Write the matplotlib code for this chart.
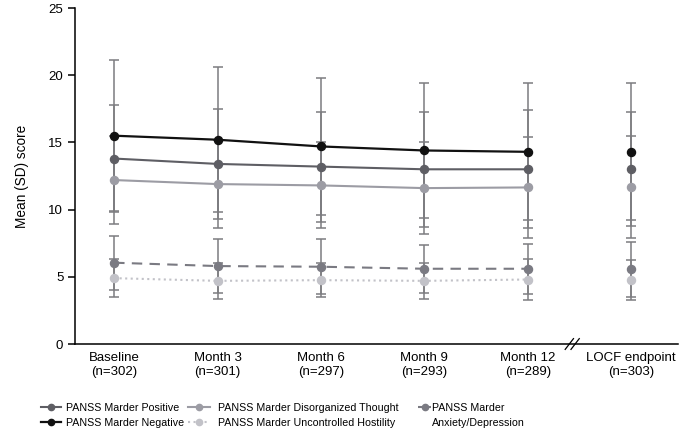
import numpy as np
import matplotlib.pyplot as plt
from matplotlib.lines import Line2D

plt.rcParams['font.family'] = ['Liberation Sans', 'DejaVu Sans']

# === data ===
timepoints = ["Baseline\n(n=302)", "Month 3\n(n=301)", "Month 6\n(n=297)",
              "Month 9\n(n=293)", "Month 12\n(n=289)", "LOCF endpoint\n(n=303)"]

positive_mean = [13.8, 13.4, 13.2, 13.0, 13.0, 13.05]
positive_sd = [4.0, 4.1, 4.1, 4.3, 4.4, 4.25]
negative_mean = [15.5, 15.2, 14.7, 14.4, 14.3, 14.3]
negative_sd = [5.6, 5.4, 5.1, 5.0, 5.1, 5.1]
disorg_mean = [12.2, 11.9, 11.8, 11.6, 11.65, 11.7]
disorg_sd = [3.3, 3.3, 3.2, 3.4, 3.75, 3.8]
anxiety_mean = [6.05, 5.8, 5.75, 5.6, 5.6, 5.55]
anxiety_sd = [2.0, 2.0, 2.05, 1.8, 1.85, 2.05]
hostility_mean = [4.9, 4.7, 4.75, 4.7, 4.8, 4.75]
hostility_sd = [1.4, 1.35, 1.25, 1.35, 1.5, 1.5]

series = [
    ("PANSS Marder Positive", positive_mean, positive_sd, "#5e5e64", "-", 1.5),
    ("PANSS Marder Negative", negative_mean, negative_sd, "#111111", "-", 1.6),
    ("PANSS Marder Disorganized Thought", disorg_mean, disorg_sd, "#9c9ca4", "-", 1.5),
    ("PANSS Marder Uncontrolled Hostility", hostility_mean, hostility_sd, "#c2c2c8", ":", 1.5),
    ("PANSS Marder", anxiety_mean, anxiety_sd, "#7a7a82", (0, (5, 3.5)), 1.5),
]

x = np.arange(len(timepoints))

fig = plt.figure(figsize=(6.83, 4.33), dpi=100)
ax = fig.add_axes([0.11, 0.2055, 0.883, 0.776])

handles = []
for label, m, sd, col, ls, lw in series:
    m = np.array(m)
    sd = np.array(sd)
    ax.errorbar(x, m, yerr=sd, fmt="none", ecolor="#7c7c80", elinewidth=1.1,
                capsize=3.6, capthick=1.1, zorder=1)
    # lines connect the visits, LOCF endpoint stands alone
    ax.plot(x[:5], m[:5], color=col, ls=ls, lw=lw, zorder=3)
    ax.plot(x, m, "o", color=col, ms=5.8, zorder=4)
    handles.append(Line2D([], [], color=col, ls=ls, lw=lw, marker="o", ms=4.5, label=label))

# the short legend handle needs a tighter dash
handles[4] = Line2D([], [], color="#7a7a82", ls=(0, (2.2, 2.2)), lw=1.5,
                    marker="o", ms=4.5, label="PANSS Marder")

ax.set_xlim(-0.377, 5.455)
ax.set_ylim(0, 25)
ax.set_yticks([0, 5, 10, 15, 20, 25])
ax.set_xticks(x)
ax.set_xticklabels(timepoints, fontsize=9.5)
ax.tick_params(axis="y", labelsize=9.5, length=5, width=1.1)
ax.tick_params(axis="x", length=0, pad=6)
ax.set_ylabel("Mean (SD) score", fontsize=9.8, labelpad=14)
for s in ["top", "right"]:
    ax.spines[s].set_visible(False)
for s in ["left", "bottom"]:
    ax.spines[s].set_linewidth(1.1)

# axis break marks
for dx in (-0.028, 0.028):
    ax.plot([4.43 + dx - 0.04, 4.43 + dx + 0.04], [-0.4, 0.4], color="black",
            lw=0.9, clip_on=False, zorder=5)

# legend in three columns
blank = Line2D([], [], color="none", label="Anxiety/Depression")
leg_kw = dict(loc="upper left", frameon=False, fontsize=7.7, borderpad=0,
              labelspacing=0.5)
fig.legend(handles=handles[0:2], bbox_to_anchor=(0.052, 0.082),
           handlelength=1.9, handletextpad=0.45, **leg_kw)
fig.legend(handles=handles[2:4], bbox_to_anchor=(0.268, 0.082),
           handlelength=2.0, handletextpad=0.75, **leg_kw)
fig.legend(handles=[handles[4], blank], bbox_to_anchor=(0.604, 0.082),
           handlelength=1.25, handletextpad=0.1, **leg_kw)

fig.savefig("out.png", dpi=100)
